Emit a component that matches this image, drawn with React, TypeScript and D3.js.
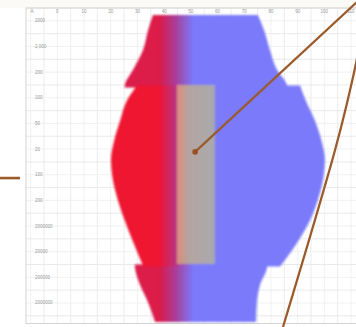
import React from "react";
import * as d3 from "d3";

const W = 356;
const H = 327;

const columnLabels = ["0", "10", "20", "30", "40", "50", "60", "70", "80", "90", "100", "110"];
const rowLabels = [
  "2000", "2,000", "200", "100", "50", "20", "100", "200",
  "2000000", "20000", "200000", "2000000",
];

// vase pieces: y in row units, left/right edges in column units
const topY = [0.27, 0.86, 1.64, 2.42, 3.0, 3.1];
const topLeft = [4.08, 3.9, 3.71, 3.33, 3.03, 3.02];
const topRight = [8.01, 8.24, 8.46, 8.73, 9.1, 9.12];

const midY = [3.02, 3.6, 4.4, 5.2, 5.9, 6.7, 7.5, 8.3, 9.2, 10.08];
const midLeft = [3.48, 3.11, 2.85, 2.62, 2.51, 2.58, 2.77, 3.03, 3.37, 3.72];
const midRight = [9.59, 9.8, 10.15, 10.4, 10.52, 10.45, 10.25, 9.95, 9.45, 8.84];

const botY = [10.0, 10.14, 10.8, 11.38, 12.24];
const botLeft = [3.4, 3.41, 3.6, 3.86, 4.16];
const botRight = [8.36, 8.35, 8.09, 7.98, 7.94];

const grayBox = { x0: 4.98, x1: 6.4, y0: 3.0, y1: 9.98 };

const line1X = [5.66, 12.1];
const line1Y = [5.61, -0.6];
const line2X = [11.8, 10.9, 8.95];
const line2Y = [1.6, 5.54, 12.44];
const stubX = [-1.7, -0.9];
const stubY = [6.63, 6.63];

export default function App() {
  const x = d3.scaleLinear().domain([0, 12]).range([44, 364.4]);
  const y = d3.scaleLinear().domain([0, 12.3]).range([8, 323.5]);

  const area = (ys: number[], l: number[], r: number[]) =>
    d3
      .area<number>()
      .y((_, i) => y(ys[i]))
      .x0((_, i) => x(l[i]))
      .x1((_, i) => x(r[i]))
      .curve(d3.curveMonotoneY)(ys) as string;

  const lineGen = (xs: number[], ys: number[]) =>
    d3
      .line<number>()
      .x((_, i) => x(xs[i]))
      .y((_, i) => y(ys[i]))
      .curve(d3.curveNatural)(xs) as string;

  const frameLeft = 26;
  const frameTop = y(0);
  const frameBottom = y(12.3);

  const vLines = d3.range(-0.5, 12.5, 0.5).map((v) => x(v)).filter((p) => p > frameLeft && p < W);
  const hLines = d3.range(0, 24.6, 1).map((k) => y(k / 2));

  return (
    <svg width={W} height={H} style={{ position: "absolute", left: 0, top: 0, background: "#fff" }}>
      <defs>
        <linearGradient id="gMid" gradientUnits="userSpaceOnUse" x1={x(4.3)} x2={x(5.6)} y1={0} y2={0}>
          <stop offset="0" stopColor="#ef1530" />
          <stop offset="0.45" stopColor="#c0307c" />
          <stop offset="1" stopColor="#7a7afb" />
        </linearGradient>
        <linearGradient id="gEnd" gradientUnits="userSpaceOnUse" x1={x(4.3)} x2={x(5.6)} y1={0} y2={0}>
          <stop offset="0" stopColor="#dc1a48" />
          <stop offset="0.45" stopColor="#ad3a92" />
          <stop offset="1" stopColor="#7a7afb" />
        </linearGradient>
        <linearGradient id="gGray" gradientUnits="userSpaceOnUse" x1={x(grayBox.x0)} x2={x(grayBox.x1)} y1={0} y2={0}>
          <stop offset="0" stopColor="#e08a7a" />
          <stop offset="0.3" stopColor="#b4a4a0" />
          <stop offset="1" stopColor="#a9a9ae" />
        </linearGradient>
        <filter id="soft" x="-5%" y="-5%" width="110%" height="110%">
          <feGaussianBlur stdDeviation="0.8" />
        </filter>
        <filter id="soft2" x="-5%" y="-5%" width="110%" height="110%">
          <feGaussianBlur stdDeviation="0.5" />
        </filter>
      </defs>
      <rect x={0} y={0} width={W} height={H} fill="#ffffff" />
      <rect x={0} y={0} width={W} height={frameTop} fill="#fbfaf6" />
      {vLines.map((p, i) => (
        <line key={"v" + i} x1={p} x2={p} y1={frameTop} y2={frameBottom} stroke={i % 2 ? "#e6e6e6" : "#eeeeee"} strokeWidth={0.8} />
      ))}
      {hLines.map((p, i) => (
        <line key={"h" + i} x1={frameLeft} x2={W} y1={p} y2={p} stroke={i % 2 ? "#ededed" : "#e4e4e4"} strokeWidth={0.8} />
      ))}
      <rect x={frameLeft} y={frameTop} width={W - frameLeft + 2} height={frameBottom - frameTop} fill="none" stroke="#d4d4d4" strokeWidth={1} />
      <text x={32} y={y(0.2)} fontSize={4.5} fill="#999" fontFamily="Liberation Sans" textAnchor="middle">A</text>
      {columnLabels.map((c, i) => (
        <text key={"c" + i} x={x(i + 0.5)} y={y(0.2)} fontSize={4.5} fill="#999" fontFamily="Liberation Sans" textAnchor="middle">
          {c}
        </text>
      ))}
      {rowLabels.map((r, i) => (
        <text key={"r" + i} x={35} y={y(i + 0.5) + 1.5} fontSize={4.5} fill="#999" fontFamily="Liberation Sans">
          {r}
        </text>
      ))}
      <g filter="url(#soft)">
        <path d={area(topY, topLeft, topRight)} fill="url(#gEnd)" />
        <path d={area(botY, botLeft, botRight)} fill="url(#gEnd)" />
        <path d={area(midY, midLeft, midRight)} fill="url(#gMid)" />
        <rect
          x={x(grayBox.x0)}
          y={y(grayBox.y0)}
          width={x(grayBox.x1) - x(grayBox.x0)}
          height={y(grayBox.y1) - y(grayBox.y0)}
          fill="url(#gGray)"
        />
      </g>
      <g filter="url(#soft2)">
        <path d={lineGen(line1X, line1Y)} stroke="#9a5a2a" strokeWidth={2.2} fill="none" />
        <path d={lineGen(line2X, line2Y)} stroke="#9a5a2a" strokeWidth={2.2} fill="none" />
        <path d={lineGen(stubX, stubY)} stroke="#9a5a2a" strokeWidth={2.6} fill="none" />
        <circle cx={x(line1X[0])} cy={y(line1Y[0])} r={2.8} fill="#9a5028" />
      </g>
    </svg>
  );
}
